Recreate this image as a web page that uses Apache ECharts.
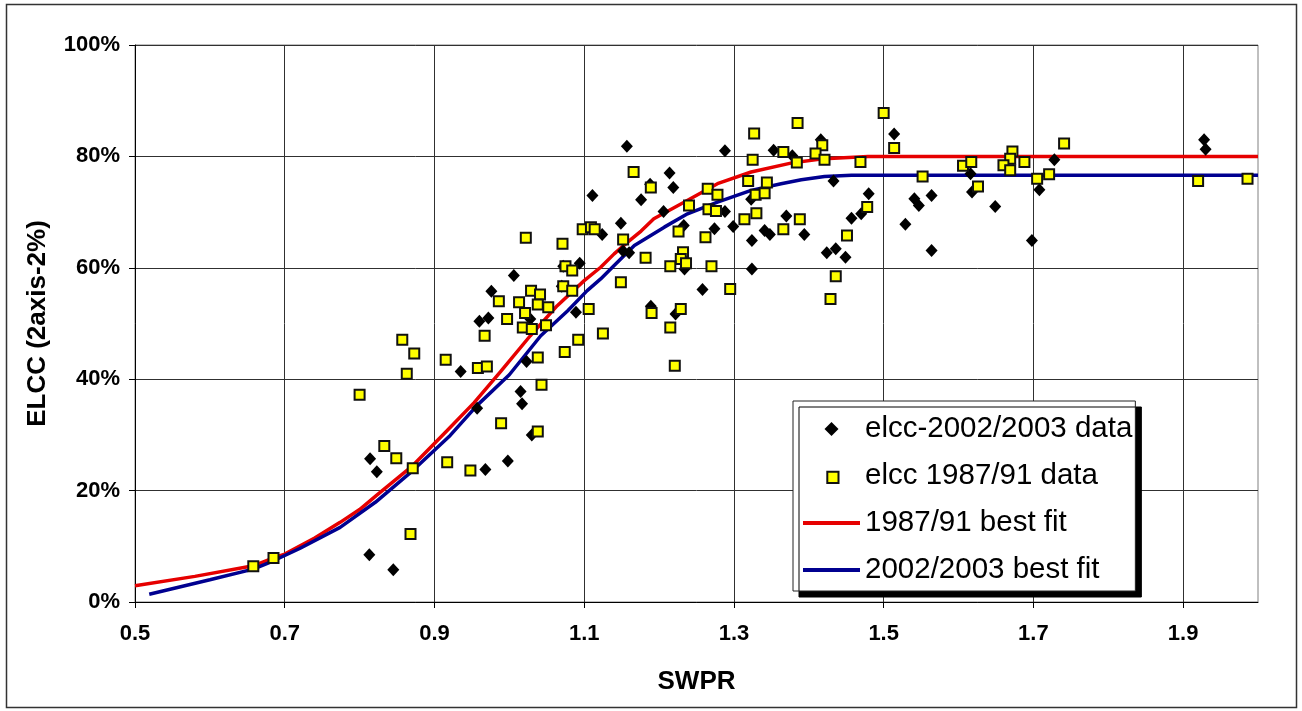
<!DOCTYPE html>
<html><head><meta charset="utf-8">
<script src="https://cdn.jsdelivr.net/npm/echarts@6/dist/echarts.min.js"></script>
<style>html,body{margin:0;padding:0;background:#fff}#c{width:1302px;height:711px}</style>
</head><body><div id="c"></div>
<script>
const FONT = 'Liberation Sans, Arial, Helvetica, sans-serif';

const xTicks = [0.5, 0.7, 0.9, 1.1, 1.3, 1.5, 1.7, 1.9];
const xMin = 0.5, xMax = 2.0;
const yMin = 0, yMax = 100, yStep = 20;

const nameDiamond = 'elcc-2002/2003 data';
const nameSquare = 'elcc 1987/91 data';
const nameFitRed = '1987/91 best fit';
const nameFitBlue = '2002/2003 best fit';

// elcc-2002/2003 data : [SWPR, ELCC %]
const elcc2002 = [
  [0.814,25.7],[0.823,23.4],[0.813,8.5],[0.845,5.8],[0.957,34.8],[0.968,23.8],[0.998,25.3],
  [1.015,37.8],[1.017,35.6],[1.030,30.0],[0.935,41.4],[1.149,68.0],[1.124,66.0],[1.152,63.0],
  [1.160,62.7],[1.094,60.8],[1.006,58.6],[0.976,55.8],[0.960,50.4],[0.972,51.0],[1.028,50.8],
  [1.089,52.0],[1.023,43.2],[1.157,81.8],[1.288,81.0],[1.353,81.1],[1.378,80.1],[1.214,77.0],
  [1.219,74.4],[1.176,72.2],[1.206,70.1],[1.323,72.3],[1.288,70.1],[1.233,67.6],[1.274,67.0],
  [1.299,67.4],[1.341,66.7],[1.348,66.0],[1.370,69.3],[1.324,64.9],[1.234,59.8],[1.324,59.8],
  [1.258,56.1],[1.189,53.1],[1.222,51.7],[1.416,83.0],[1.514,84.0],[1.433,75.6],[1.480,73.3],
  [1.457,68.9],[1.470,69.7],[1.394,66.0],[1.541,72.4],[1.547,71.2],[1.564,73.0],[1.529,67.8],
  [1.564,63.1],[1.424,62.7],[1.436,63.4],[1.449,61.9],[1.616,76.9],[1.618,73.6],[1.649,71.0],
  [1.728,79.4],[1.708,74.0],[1.698,64.9],[1.928,83.0],[1.930,81.3],[1.111,73.0],[1.188,75.0],
  [1.070,56.7],[1.072,60.3]
];

// elcc 1987/91 data : [SWPR, ELCC %]
const elcc1987 = [
  [0.800,37.2],[0.833,28.0],[0.849,25.8],[0.871,24.0],[0.917,25.1],[0.948,23.6],[0.989,32.1],
  [1.038,30.6],[1.043,39.0],[0.868,12.2],[0.863,41.0],[0.857,47.1],[0.873,44.6],[1.022,65.4],
  [1.071,64.3],[1.098,66.9],[1.109,67.3],[1.114,66.9],[1.152,65.1],[1.075,60.3],[1.084,59.5],
  [1.072,56.7],[1.084,55.9],[1.149,57.4],[1.029,55.9],[1.041,55.2],[0.986,54.0],[1.013,53.8],
  [1.038,53.4],[1.052,52.9],[1.021,51.9],[0.997,50.8],[1.018,49.3],[1.030,49.0],[1.049,49.7],
  [1.106,52.6],[1.125,48.2],[1.092,47.1],[1.074,44.9],[0.967,47.8],[0.915,43.5],[0.958,42.0],
  [0.970,42.3],[1.038,43.9],[1.327,84.1],[1.325,79.4],[1.366,80.8],[1.384,78.9],[1.166,77.2],
  [1.189,74.4],[1.265,74.2],[1.278,73.1],[1.319,75.6],[1.344,75.3],[1.329,73.1],[1.341,73.4],
  [1.240,71.2],[1.266,70.5],[1.276,70.2],[1.330,69.8],[1.314,68.7],[1.366,66.9],[1.388,68.7],
  [1.226,66.5],[1.262,65.5],[1.182,61.8],[1.232,62.8],[1.229,61.6],[1.236,60.8],[1.215,60.3],
  [1.270,60.3],[1.295,56.2],[1.190,51.9],[1.229,52.6],[1.215,49.3],[1.221,42.4],[1.500,87.8],
  [1.514,81.5],[1.385,86.0],[1.418,82.0],[1.409,80.5],[1.421,79.4],[1.469,79.0],[1.552,76.4],
  [1.606,78.3],[1.617,79.0],[1.626,74.6],[1.478,70.9],[1.451,65.8],[1.436,58.5],[1.429,54.4],
  [1.741,82.3],[1.672,80.9],[1.669,79.6],[1.660,78.4],[1.688,79.0],[1.669,77.5],[1.705,76.0],
  [1.721,76.8],[1.920,75.6],[1.986,76.0],[0.658,6.4],[0.685,7.9]
];

// 1987/91 best fit : [SWPR, ELCC %]
const fit1987 = [
  [0.500,2.9],[0.580,4.6],[0.658,6.5],[0.685,7.9],[0.700,8.6],[0.740,11.5],[0.774,14.3],
  [0.800,16.6],[0.823,19.2],[0.871,24.5],[0.917,30.8],[0.953,35.8],[0.988,41.3],[1.028,47.8],
  [1.064,53.2],[1.100,57.7],[1.122,60.1],[1.140,62.5],[1.158,64.6],[1.176,66.6],[1.193,68.8],
  [1.234,71.8],[1.278,75.1],[1.323,77.2],[1.376,78.8],[1.421,79.6],[1.479,80.0],[2.000,80.0]
];

// 2002/2003 best fit : [SWPR, ELCC %]
const fit2002 = [
  [0.519,1.4],[0.600,4.0],[0.658,5.9],[0.685,7.4],[0.720,9.6],[0.774,13.4],[0.821,17.9],
  [0.871,23.6],[0.921,29.9],[0.957,35.3],[1.000,40.8],[1.042,47.8],[1.078,52.3],[1.104,55.9],
  [1.122,58.0],[1.140,60.4],[1.167,64.0],[1.207,67.3],[1.238,69.7],[1.278,71.8],[1.323,73.9],
  [1.363,75.1],[1.390,75.8],[1.421,76.4],[1.457,76.6],[2.000,76.6]
];

const chart = echarts.init(document.getElementById('c'), null, {renderer: 'canvas'});
chart.setOption({
  animation: false,
  backgroundColor: '#ffffff',
  textStyle: {fontFamily: FONT},
  graphic: [{
    type: 'rect', silent: true, z: -10,
    shape: {x: 6.5, y: 4.5, width: 1290, height: 703},
    style: {fill: 'none', stroke: '#333', lineWidth: 1.5}
  }],
  grid: {
    left: 135, right: 44, top: 45, bottom: 109,
    show: true, borderColor: '#808080', borderWidth: 1, backgroundColor: 'transparent'
  },
  legend: {
    orient: 'vertical', left: 793, top: 401,
    padding: [13, 3, 6, 10],
    itemWidth: 57, itemHeight: 14, itemGap: 17,
    backgroundColor: '#ffffff', borderColor: '#222', borderWidth: 1,
    shadowColor: '#000', shadowBlur: 0, shadowOffsetX: 6, shadowOffsetY: 6,
    textStyle: {fontFamily: FONT, fontSize: 29.5, color: '#000'},
    data: [
      {name: nameDiamond, icon: 'path://M5,0L10,5L5,10L0,5Z'},
      {name: nameSquare, icon: 'path://M0,0M2,2H10V10H2Z'},
      {name: nameFitRed, icon: 'path://M0,0H57V4H0Z', itemStyle: {color: '#e60000', borderWidth: 0}},
      {name: nameFitBlue, icon: 'path://M0,0H57V4H0Z', itemStyle: {color: '#000090', borderWidth: 0}}
    ]
  },
  xAxis: {
    type: 'value', min: xMin, max: xMax,
    name: 'SWPR', nameLocation: 'middle', nameGap: 67,
    nameTextStyle: {fontFamily: FONT, fontSize: 26, fontWeight: 'bold', color: '#000'},
    axisLine: {show: true, onZero: false, lineStyle: {color: '#000', width: 1}},
    axisTick: {show: true, inside: false, length: 6, customValues: xTicks, lineStyle: {color: '#000'}},
    axisLabel: {
      customValues: xTicks, margin: 21,
      fontFamily: FONT, fontSize: 22, fontWeight: 'bold', color: '#000',
      formatter: v => v.toFixed(1)
    },
    splitLine: {show: true, lineStyle: {color: '#303030', width: 1}}
  },
  yAxis: {
    type: 'value', min: yMin, max: yMax, interval: yStep,
    name: 'ELCC (2axis-2%)', nameLocation: 'middle', nameGap: 84, nameRotate: 90,
    nameTextStyle: {fontFamily: FONT, fontSize: 26, fontWeight: 'bold', color: '#000'},
    axisLine: {show: true, onZero: false, lineStyle: {color: '#000', width: 1}},
    axisTick: {show: true, inside: false, length: 6, lineStyle: {color: '#000'}},
    axisLabel: {
      margin: 15, fontFamily: FONT, fontSize: 22, fontWeight: 'bold', color: '#000',
      formatter: '{value}%'
    },
    splitLine: {show: true, lineStyle: {color: '#303030', width: 1}}
  },
  series: [
    {
      name: nameFitRed, type: 'line', data: fit1987, symbol: 'none', showSymbol: false,
      lineStyle: {color: '#e60000', width: 3.5}, itemStyle: {color: '#e60000'}, z: 2
    },
    {
      name: nameFitBlue, type: 'line', data: fit2002, symbol: 'none', showSymbol: false,
      lineStyle: {color: '#000090', width: 3.5}, itemStyle: {color: '#000090'}, z: 2
    },
    {
      name: nameDiamond, type: 'scatter', data: elcc2002, symbol: 'diamond', symbolSize: [12, 13],
      itemStyle: {color: '#000000', borderWidth: 0, opacity: 1}, z: 3
    },
    {
      name: nameSquare, type: 'scatter', data: elcc1987, symbol: 'rect', symbolSize: 10,
      itemStyle: {color: '#ffff00', borderColor: '#111111', borderWidth: 2, opacity: 1}, z: 4
    }
  ]
});
</script>
</body></html>
